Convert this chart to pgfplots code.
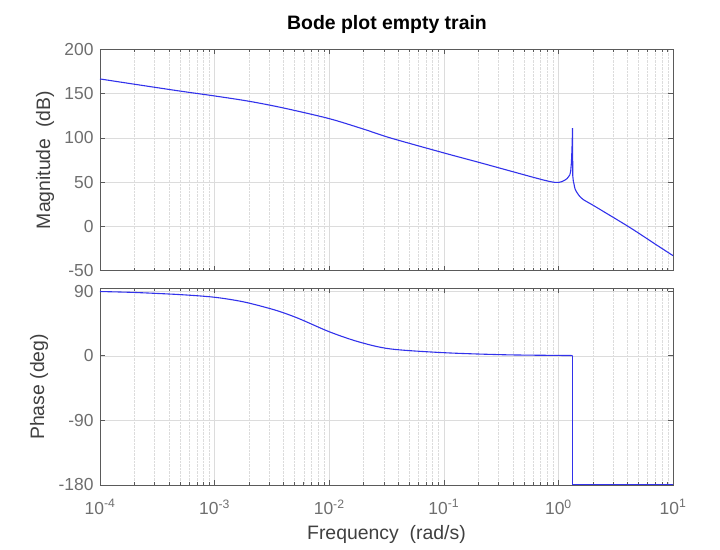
\documentclass[border=0pt]{standalone}
\usepackage{pgfplots}
\pgfplotsset{compat=1.18}
\usepackage{fontspec}
\setmainfont{Liberation Sans}
\definecolor{bodeblue}{RGB}{50,50,235}
\definecolor{axgray}{RGB}{90,90,90}
\definecolor{tickgray}{RGB}{110,110,110}
\definecolor{gridgray}{RGB}{220,220,220}
\pgfplotsset{
  /pgf/number format/assume math mode=true,
  every axis/.append style={
    scale only axis, width=573bp,
    axis line style={axgray, line width=0.6bp},
    tick style={axgray, line width=0.6bp},
    tick align=inside,
    major tick length=5bp, minor tick length=3bp,
    major grid style={gridgray, line width=0.5bp},
    minor grid style={gridgray, densely dotted, line width=0.5bp},
    tick label style={font=\fontsize{17.5}{20}\selectfont, text=tickgray},
    yticklabel style={xshift=-3bp},
  },
}
\newcommand{\minorx}{2e-4,3e-4,4e-4,5e-4,6e-4,7e-4,8e-4,9e-4,
                 2e-3,3e-3,4e-3,5e-3,6e-3,7e-3,8e-3,9e-3,
                 2e-2,3e-2,4e-2,5e-2,6e-2,7e-2,8e-2,9e-2,
                 2e-1,3e-1,4e-1,5e-1,6e-1,7e-1,8e-1,9e-1,
                 2,3,4,5,6,7,8,9}
\begin{document}
\begin{tikzpicture}[x=1bp,y=1bp]
\useasboundingbox (0,0) rectangle (720,550);
% magnitude
\begin{axis}[at={(100bp,279.3bp)}, anchor=south west, height=221.4bp,
  xmode=log, xmin=1e-4, xmax=10,
  xtick={1e-4,1e-3,1e-2,1e-1,1,10}, minor xtick/.expanded={\minorx},
  xmajorgrids, xminorgrids, ymajorgrids,
  ymin=-50, ymax=200, ytick={-50,0,50,100,150,200},
  xticklabels={}]
\addplot[bodeblue, line width=1.1bp, smooth, tension=0.5] coordinates {
(1e-4,166.5) (2.13e-4,160) (5e-4,152.8) (1e-3,147.3) (2e-3,141.3) (4e-3,133.7)
(1e-2,121.7) (2e-2,109.8) (3.4e-2,100) (1e-1,83) (2e-1,72.5) (3.4e-1,64.3)
(0.71,53) (0.935,49.7) (1.07,50.5) (1.19,54) (1.26,58.5)
};
\addplot[bodeblue, line width=1.1bp] coordinates {
(1.26,58.5) (1.28,62.5) (1.295,70) (1.305,78) (1.315,90) (1.322,100)
(1.328,111) (1.331,85) (1.335,57) (1.35,51)
};
\addplot[bodeblue, line width=1.1bp, smooth, tension=0.5] coordinates {
(1.35,51) (1.37,47.5) (1.4,42) (1.5,35.5) (1.64,30.5) (2.0,24) (3.0,10.3)
(4.0,0.5) (5,-7.5) (7,-20) (10,-33)
};
\end{axis}
% phase
\begin{axis}[at={(100bp,65bp)}, anchor=south west, height=196.7bp,
  xmode=log, xmin=1e-4, xmax=10,
  xtick={1e-4,1e-3,1e-2,1e-1,1,10}, minor xtick/.expanded={\minorx},
  xmajorgrids, xminorgrids, ymajorgrids,
  ymin=-180, ymax=94, ytick={-180,-90,0,90},
  xticklabels={10\textsuperscript{-4},10\textsuperscript{-3},10\textsuperscript{-2},
               10\textsuperscript{-1},10\textsuperscript{0},10\textsuperscript{1}},
  xticklabel style={yshift=-11bp}]
\addplot[bodeblue, line width=1.1bp, smooth, tension=0.5] coordinates {
(1e-4,89.5) (2e-4,88.2) (5e-4,85.2) (1e-3,81.5) (1.8e-3,75) (3.4e-3,63.5)
(5.4e-3,52) (1e-2,33.5) (1.8e-2,19.5) (3.4e-2,9.6) (1e-1,4.3) (3.4e-1,1.4)
(1,0.5) (1.328,0.3)
};
\addplot[bodeblue, line width=1.1bp] coordinates {
(1.328,0.3) (1.328,-180) (10,-180)
};
\end{axis}
\node[font=\fontsize{19.5}{22}\selectfont\bfseries] at (387,526) {Bode plot empty train};
\node[font=\fontsize{19.5}{22}\selectfont, text=black!75] at (386.5,16) {Frequency\ \ (rad/s)};
\node[font=\fontsize{19.5}{22}\selectfont, text=black!75, rotate=90] at (45,390) {Magnitude\ \ (dB)};
\node[font=\fontsize{19.5}{22}\selectfont, text=black!75, rotate=90] at (39,163) {Phase (deg)};
\end{tikzpicture}
\end{document}
